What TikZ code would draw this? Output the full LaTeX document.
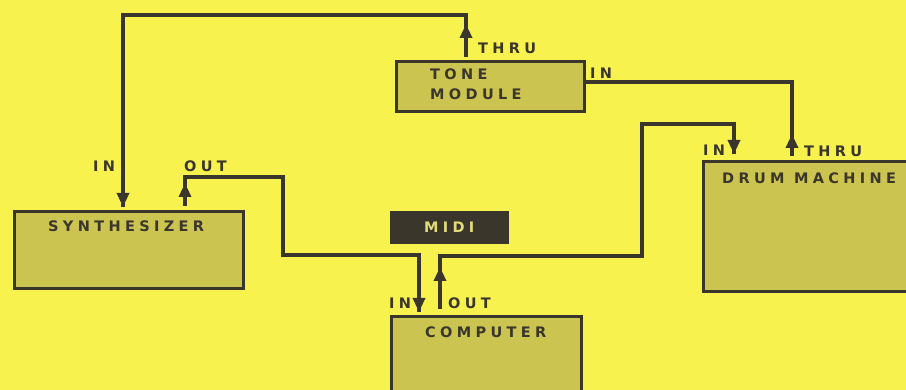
\documentclass[tikz,border=0pt]{standalone}
\usepackage{fontspec}
\usetikzlibrary{arrows.meta}
\newfontfamily\lab[LetterSpace=30]{DejaVu Sans}
\definecolor{bg}{RGB}{248,242,78}
\definecolor{boxfill}{RGB}{204,196,80}
\definecolor{ink}{RGB}{58,54,44}
\definecolor{miditxt}{RGB}{225,220,120}
\tikzset{
  unit/.style={draw=ink, line width=3pt, fill=boxfill, inner sep=0pt, anchor=north west},
  wire/.style={draw=ink, line width=3.2pt, line join=miter},
  tip/.style={draw=ink, line width=3.2pt, -{Triangle[length=14pt,width=12pt]}},
  txt/.style={text=ink, font=\lab\bfseries\fontsize{14.5}{16}\selectfont, inner sep=0pt, anchor=west},
}
\begin{document}
\begin{tikzpicture}[x=1pt,y=-1pt]
\useasboundingbox (0,0) rectangle (906,390);
\fill[bg] (0,0) rectangle (906,390);
% units
\node[unit, minimum width=229pt, minimum height=77pt] (synth) at (13,210) {};
\node[unit, minimum width=188pt, minimum height=50pt] (tone) at (395,60) {};
\node[unit, minimum width=190pt, minimum height=90pt] (comp) at (390,315) {};
\node[unit, minimum width=215pt, minimum height=130pt] (drum) at (702,160) {};
\node[fill=ink, draw=ink, minimum width=118pt, minimum height=32pt, inner sep=0pt, anchor=north west] (midi) at (390,211) {};
% titles
\node[txt] (synthT) at (48,226) {SYNTHESIZER};
\node[txt] (toneT1) at (430,74) {TONE};
\node[txt] (toneT2) at (430,94) {MODULE};
\node[txt] (compT) at (425,332) {COMPUTER};
\node[txt] (drumT) at (722,178) {DRUM MACHINE};
\node[txt, text=miditxt, anchor=center] (midiT) at (midi.center) {MIDI};
% port labels
\node[txt] (synthIn) at (93,166) {IN};
\node[txt] (synthOut) at (184,166) {OUT};
\node[txt] (toneThru) at (478,48) {THRU};
\node[txt] (toneIn) at (590,73) {IN};
\node[txt] (drumIn) at (703,150) {IN};
\node[txt] (drumThru) at (804,151) {THRU};
\node[txt] (compIn) at (389,303) {IN};
\node[txt] (compOut) at (448,303) {OUT};
% ports and corners
\coordinate (pToneThru) at (466,57);
\coordinate (c1) at (466,15);
\coordinate (c2) at (123,15);
\coordinate (pSynthIn) at (123,207);
\coordinate (pDrumThru) at (792,156);
\coordinate (c3) at (792,82);
\coordinate (pToneIn) at (tone.east |- c3);
\coordinate (pCompOut) at (440,309);
\coordinate (c4) at (440,256);
\coordinate (c5) at (642,256);
\coordinate (c6) at (642,124);
\coordinate (c7) at (734,124);
\coordinate (pDrumIn) at (734,154);
\coordinate (pSynthOut) at (185,206);
\coordinate (c8) at (185,177);
\coordinate (c9) at (283,177);
\coordinate (c10) at (283,255);
\coordinate (c11) at (419,255);
\coordinate (pCompIn) at (419,312);
% connectors
\draw[wire] (pToneThru) -- (c1) -- (c2) -- (pSynthIn);
\draw[tip] (c2) -- (pSynthIn);
\draw[tip] (pToneThru) -- (466,24);
\draw[wire] (pDrumThru) -- (c3) -- (pToneIn);
\draw[tip] (pDrumThru) -- (792,134);
\draw[wire] (pCompOut) -- (c4) -- (c5) -- (c6) -- (c7) -- (pDrumIn);
\draw[tip] (c7) -- (pDrumIn);
\draw[tip] (pCompOut) -- (440,267);
\draw[wire] (pSynthOut) -- (c8) -- (c9) -- (c10) -- (c11) -- (pCompIn);
\draw[tip] (c11) -- (pCompIn);
\draw[tip] (pSynthOut) -- (185,183);
\end{tikzpicture}
\end{document}
